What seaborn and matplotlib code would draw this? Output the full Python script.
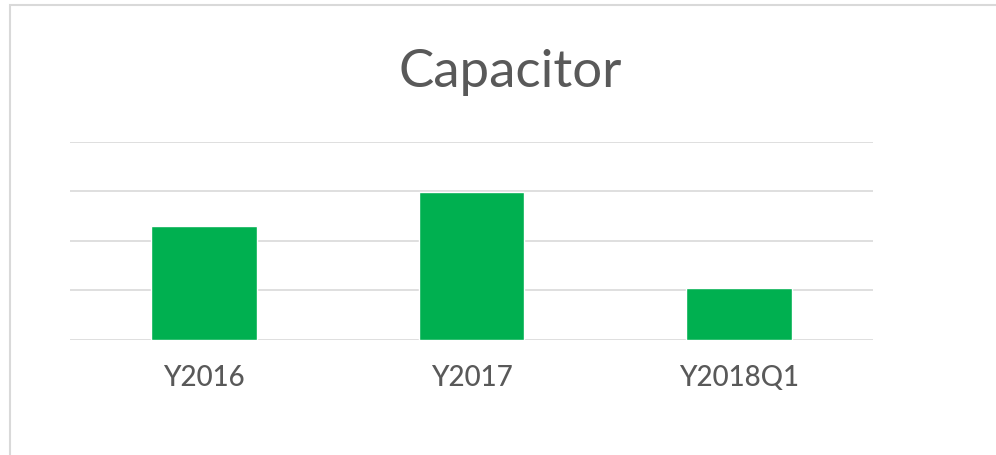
import pandas as pd
import matplotlib.pyplot as plt
import seaborn as sns
from matplotlib.patches import Rectangle

# chart data
periods = ['Y2016', 'Y2017', 'Y2018Q1']
capacitor = [2.3, 2.99, 1.05]
grid_ticks = [0, 1, 2, 3, 4]

df = pd.DataFrame({'period': periods, 'value': capacitor})

sns.set_style('white')
plt.rcParams['font.family'] = ['Lato', 'DejaVu Sans']

W, H = 996, 455
fig = plt.figure(figsize=(W / 100, H / 100), dpi=100)

# light grey chart border (right and bottom edges fall outside the picture)
fig.patches.append(Rectangle((10 / W, -0.1), 1.2, (455 - 5) / H + 0.1, transform=fig.transFigure,
                             fill=False, edgecolor='#d9d9d9', linewidth=1.5))

ax = fig.add_axes([70 / W, (H - 340) / H, (873 - 70) / W, (340 - 141.7) / H])
sns.barplot(data=df, x='period', y='value', color='#00b050', saturation=1, width=0.395, ax=ax)

ax.set_ylim(0, 4)
ax.set_yticks(grid_ticks)
ax.set_yticklabels([])
ax.yaxis.grid(True, color='#d9d9d9', linewidth=1.2)
ax.set_axisbelow(True)
ax.tick_params(axis='both', length=0)
ax.tick_params(axis='x', labelsize=20, labelcolor='#595959', pad=18)
for lbl in ax.get_xticklabels():
    lbl.set_fontweight('medium')
ax.set_xlabel('')
ax.set_ylabel('')
for s in ax.spines.values():
    s.set_visible(False)

fig.text(510 / W, 1 - 72 / H, 'Capacitor', ha='center', va='center', fontsize=38, color='#595959')

fig.savefig('out.png', dpi=100)
